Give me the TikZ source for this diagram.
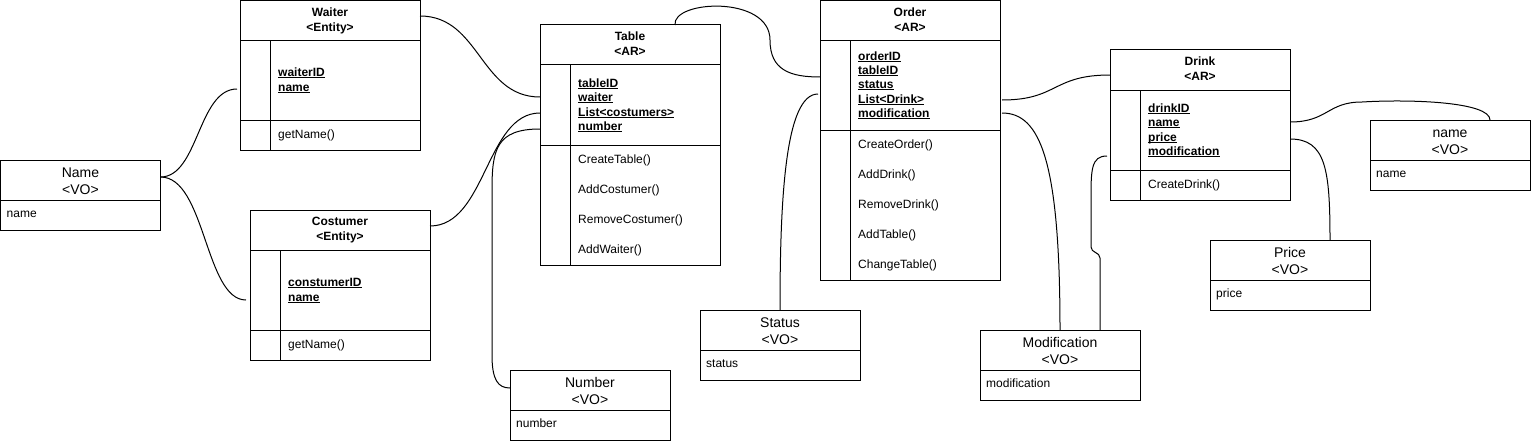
\documentclass[tikz,border=0pt]{standalone}
\usepackage{fontspec}
\setmainfont{Liberation Sans}
\newcommand\myul[1]{\setbox0\hbox{#1}\rlap{\rule[-1.8pt]{\wd0}{0.9pt}}\box0}
\newcommand\uattr[1]{\myul{\bfseries #1}}
\tikzset{
 box/.style={draw, line width=1pt, inner sep=0pt, outer sep=0pt, anchor=north west},
 sep/.style={line width=1pt},
 txt/.style={inner sep=0pt, anchor=base west, font=\fontsize{12}{14}\selectfont},
 ttl/.style={inner sep=0pt, anchor=base, font=\fontsize{12}{14}\selectfont\bfseries},
 vottl/.style={inner sep=0pt, anchor=base, font=\fontsize{14}{17}\selectfont},
 conn/.style={line width=1pt},
}
% #1 id, #2 x, #3 y, #4 height, #5 method divider offset, #6 title, #7 stereotype
\newcommand\umlbox[7]{%
 \node[box, minimum width=180pt, minimum height=#4pt] (#1) at (#2,#3) {};
 \draw[sep] ([yshift=-40pt]#1.north west) -- ([yshift=-40pt]#1.north east);
 \draw[sep] ([yshift=-#5pt]#1.north west) -- ([yshift=-#5pt]#1.north east);
 \draw[sep] ([xshift=30pt,yshift=-40pt]#1.north west) -- ([xshift=30pt]#1.south west);
 \node[ttl] (#1-t1) at ([yshift=-15.5pt]#1.north) {#6};
 \node[ttl] (#1-t2) at ([yshift=-30.5pt]#1.north) {#7};
}
% #1 id, #2 x, #3 y, #4 title, #5 attribute
\newcommand\vobox[5]{%
 \node[box, minimum width=160pt, minimum height=70pt] (#1) at (#2,#3) {};
 \draw[sep] ([yshift=-40pt]#1.north west) -- ([yshift=-40pt]#1.north east);
 \node[vottl] (#1-t1) at ([yshift=-17pt]#1.north) {#4};
 \node[vottl] (#1-t2) at ([yshift=-34pt]#1.north) {<VO>};
 \node[txt] (#1-a) at ([xshift=6pt,yshift=-57.5pt]#1.north west) {#5};
}
\begin{document}
\begin{tikzpicture}[x=1pt,y=-1pt]
\fill[white] (0,0) rectangle (1531,444);
\useasboundingbox (0,0) rectangle (1531,444);

% ---------- classes ----------
\umlbox{waiter}{240}{1}{149}{119}{Waiter}{<Entity>}
\node[txt] (waiter-a1) at (278,76.5) {\uattr{waiterID}};
\node[txt] (waiter-a2) at (278,91.5) {\uattr{name}};
\node[txt] (waiter-m1) at (278,138.5) {getName()};

\umlbox{costumer}{250}{210}{150}{120}{Costumer}{<Entity>}
\node[txt] (costumer-a1) at (288,286.5) {\uattr{constumerID}};
\node[txt] (costumer-a2) at (288,301.5) {\uattr{name}};
\node[txt] (costumer-m1) at (288,348.5) {getName()};

\umlbox{table}{540}{25}{240}{120}{Table}{<AR>}
\node[txt] (table-a1) at (578,87.5) {\uattr{tableID}};
\node[txt] (table-a2) at (578,101.5) {\uattr{waiter}};
\node[txt] (table-a3) at (578,116.5) {\uattr{List<costumers>}};
\node[txt] (table-a4) at (578,130.5) {\uattr{number}};
\node[txt] (table-m1) at (578,163.5) {CreateTable()};
\node[txt] (table-m2) at (578,193.5) {AddCostumer()};
\node[txt] (table-m3) at (578,223.5) {RemoveCostumer()};
\node[txt] (table-m4) at (578,253.5) {AddWaiter()};

\umlbox{order}{820}{1}{279}{129}{Order}{<AR>}
\node[txt] (order-a1) at (858,60.5) {\uattr{orderID}};
\node[txt] (order-a2) at (858,74.5) {\uattr{tableID}};
\node[txt] (order-a3) at (858,88.5) {\uattr{status}};
\node[txt] (order-a4) at (858,103.5) {\uattr{List<Drink>}};
\node[txt] (order-a5) at (858,117.5) {\uattr{modification}};
\node[txt] (order-m1) at (858,148.5) {CreateOrder()};
\node[txt] (order-m2) at (858,178.5) {AddDrink()};
\node[txt] (order-m3) at (858,208.5) {RemoveDrink()};
\node[txt] (order-m4) at (858,238.5) {AddTable()};
\node[txt] (order-m5) at (858,268.5) {ChangeTable()};

\umlbox{drink}{1110}{50}{150}{120}{Drink}{<AR>}
\node[txt] (drink-a1) at (1148,112.5) {\uattr{drinkID}};
\node[txt] (drink-a2) at (1148,126.5) {\uattr{name}};
\node[txt] (drink-a3) at (1148,141.5) {\uattr{price}};
\node[txt] (drink-a4) at (1148,155.5) {\uattr{modification}};
\node[txt] (drink-m1) at (1148,188.5) {CreateDrink()};

% ---------- value objects ----------
\vobox{namevo}{0.5}{160}{Name}{name}
\vobox{number}{510}{370}{Number}{number}
\vobox{status}{700}{310}{Status}{status}
\vobox{modif}{980}{330}{Modification}{modification}
\vobox{price}{1210}{240}{Price}{price}
\vobox{namevo2}{1370}{120}{name}{name}

% ---------- connectors ----------
\draw[conn] ([yshift=-17pt]namevo.north east) .. controls +(38,0) and +(-39,0) .. ([xshift=-3pt,yshift=-88pt]waiter.north west);
\draw[conn] ([yshift=-17pt]namevo.north east) .. controls +(45,0) and +(-41,0) .. ([xshift=-4pt,yshift=-90pt]costumer.north west);
\draw[conn] ([yshift=-15pt]waiter.north east) .. controls +(60,0) and +(-60,0) .. ([yshift=-72pt]table.north west);
\draw[conn] ([yshift=-16pt]costumer.north east) .. controls +(56,0) and +(-54,0) .. ([yshift=-88pt]table.north west);
\draw[conn] ([yshift=-104pt]table.north west) .. controls +(-44,0) and +(0,-40) .. (492,190) -- (492,355) .. controls +(0,25) and +(-12,0) .. ([yshift=-18pt]number.north west);
\draw[conn] ([xshift=-45pt]table.north east) .. controls +(-3,-25) and +(0,-45) .. (770,40) .. controls +(0,30) and +(-30,0) .. ([yshift=-76pt]order.north west);
\draw[conn] ([xshift=-2pt,yshift=-93pt]order.north west) .. controls +(-33,0) and +(0,-110) .. (status.north);
\draw[conn] ([xshift=2pt,yshift=-99pt]order.north east) .. controls +(56,0) and +(-58,0) .. ([yshift=-25pt]drink.north west);
\draw[conn] ([xshift=2pt,yshift=-112pt]order.north east) .. controls +(38,0) and +(0,-170) .. (modif.north);
\draw[conn] ([xshift=-3pt,yshift=-106pt]drink.north west) .. controls +(-16,0) and +(0,-30) .. (1091,200) -- (1091,247) .. controls +(0,6) and +(0,-6) .. (1100,258) -- ([xshift=40pt]modif.north);
\draw[conn] ([yshift=-72pt]drink.north east) .. controls +(38,0) and +(-35,0) .. (1362,102) .. controls +(50,-3) and +(0,-18) .. ([xshift=40pt]namevo2.north);
\draw[conn] ([yshift=-89pt]drink.north east) .. controls +(36,0) and +(0,-70) .. ([xshift=40pt]price.north);
\end{tikzpicture}
\end{document}
